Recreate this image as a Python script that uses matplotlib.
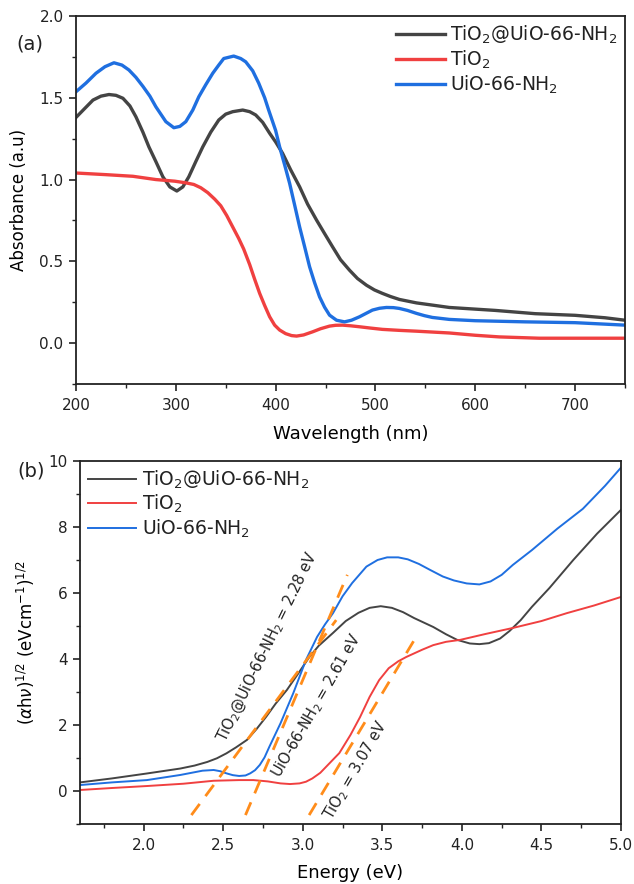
import matplotlib
matplotlib.use("Agg")
import matplotlib.pyplot as plt
from matplotlib.ticker import MultipleLocator, FormatStrFormatter

# ---- panel (a): UV-vis absorbance -------------------------------------------
WL_COMP = [200, 208, 217, 225, 233, 240, 247, 254, 260, 267, 273, 280, 287, 294,
           301, 307, 313, 320, 327, 335, 343, 350, 357, 367, 374, 380, 387, 394,
           400, 407, 415, 424, 432, 441, 449, 457, 465, 474, 482, 491, 499, 507,
           515, 524, 541, 574, 620, 660, 700, 730, 750]
AB_COMP = [1.38, 1.43, 1.486, 1.51, 1.52, 1.515, 1.497, 1.45, 1.384, 1.29, 1.20,
           1.11, 1.017, 0.955, 0.93, 0.955, 1.017, 1.11, 1.20, 1.29, 1.364, 1.40,
           1.415, 1.425, 1.415, 1.395, 1.35, 1.283, 1.23, 1.16, 1.06, 0.956, 0.85,
           0.752, 0.67, 0.589, 0.51, 0.446, 0.395, 0.354, 0.325, 0.304, 0.285,
           0.267, 0.246, 0.218, 0.20, 0.18, 0.17, 0.155, 0.14]

WL_TIO2 = [200, 230, 257, 280, 299, 310, 318, 325, 332, 339, 345, 351, 357, 363,
           368, 374, 379, 384, 389, 394, 399, 404, 410, 416, 421, 428, 437, 445,
           454, 460, 467, 475, 484, 495, 507, 524, 541, 574, 600, 624, 664, 750]
AB_TIO2 = [1.04, 1.03, 1.02, 1.00, 0.99, 0.98, 0.97, 0.95, 0.92, 0.88, 0.84, 0.78,
           0.71, 0.64, 0.575, 0.48, 0.39, 0.304, 0.23, 0.161, 0.11, 0.08, 0.058,
           0.046, 0.043, 0.05, 0.069, 0.088, 0.104, 0.109, 0.11, 0.106, 0.10,
           0.092, 0.084, 0.078, 0.073, 0.062, 0.048, 0.038, 0.03, 0.03]

WL_UIO = [200, 210, 220, 229, 238, 246, 253, 260, 267, 274, 280, 290, 298, 304,
          310, 317, 323, 330, 337, 343, 348, 358, 365, 370, 377, 383, 389, 393,
          400, 404, 409, 414, 419, 424, 429, 434, 439, 444, 449, 454, 461, 469,
          476, 484, 490, 497, 504, 511, 518, 524, 532, 541, 549, 557, 574, 600,
          650, 700, 750]
AB_UIO = [1.537, 1.59, 1.65, 1.69, 1.714, 1.70, 1.67, 1.625, 1.57, 1.51, 1.445,
          1.354, 1.317, 1.325, 1.354, 1.425, 1.506, 1.58, 1.65, 1.70, 1.74, 1.755,
          1.74, 1.72, 1.665, 1.59, 1.50, 1.425, 1.30, 1.20, 1.09, 0.977, 0.845,
          0.711, 0.59, 0.467, 0.37, 0.283, 0.22, 0.171, 0.14, 0.13, 0.14, 0.161,
          0.18, 0.202, 0.213, 0.218, 0.217, 0.212, 0.20, 0.182, 0.168, 0.157,
          0.145, 0.137, 0.13, 0.125, 0.11]

# ---- panel (b): Tauc plot ----------------------------------------------------
E_COMP = [1.60, 1.80, 2.02, 2.23, 2.32, 2.40, 2.46, 2.52, 2.58, 2.65, 2.71, 2.77,
          2.83, 2.90, 2.97, 3.04, 3.10, 3.19, 3.27, 3.35, 3.42, 3.49, 3.56, 3.63,
          3.70, 3.82, 3.90, 3.97, 4.05, 4.11, 4.17, 4.24, 4.30, 4.37, 4.44, 4.55,
          4.70, 4.85, 5.00]
T_COMP = [0.26, 0.38, 0.53, 0.68, 0.77, 0.88, 0.99, 1.14, 1.32, 1.55, 1.88, 2.25,
          2.65, 3.06, 3.55, 4.05, 4.40, 4.79, 5.15, 5.40, 5.55, 5.60, 5.55, 5.42,
          5.24, 4.97, 4.75, 4.58, 4.47, 4.45, 4.48, 4.62, 4.85, 5.18, 5.58, 6.15,
          7.00, 7.80, 8.52]

E_TIO2 = [1.60, 1.80, 2.02, 2.25, 2.44, 2.60, 2.69, 2.78, 2.86, 2.92, 2.98, 3.02,
          3.06, 3.11, 3.17, 3.23, 3.30, 3.36, 3.42, 3.48, 3.54, 3.60, 3.65, 3.75,
          3.82, 3.90, 3.99, 4.15, 4.32, 4.50, 4.66, 4.83, 5.00]
T_TIO2 = [0.03, 0.09, 0.15, 0.22, 0.31, 0.33, 0.33, 0.29, 0.23, 0.21, 0.23, 0.28,
          0.38, 0.55, 0.85, 1.15, 1.70, 2.24, 2.85, 3.36, 3.72, 3.93, 4.06, 4.28,
          4.42, 4.52, 4.58, 4.76, 4.94, 5.15, 5.39, 5.62, 5.88]

E_UIO = [1.60, 1.80, 2.02, 2.23, 2.30, 2.37, 2.44, 2.48, 2.52, 2.56, 2.60, 2.64,
         2.67, 2.70, 2.73, 2.76, 2.79, 2.86, 2.94, 3.02, 3.09, 3.14, 3.19, 3.25,
         3.31, 3.40, 3.47, 3.53, 3.60, 3.66, 3.73, 3.80, 3.88, 3.95, 4.03, 4.11,
         4.18, 4.25, 4.32, 4.44, 4.60, 4.76, 4.90, 5.00]
T_UIO = [0.18, 0.26, 0.33, 0.485, 0.55, 0.615, 0.636, 0.60, 0.535, 0.48, 0.455,
         0.47, 0.535, 0.63, 0.79, 1.02, 1.34, 2.05, 2.96, 3.97, 4.67, 5.05, 5.39,
         5.90, 6.30, 6.80, 7.00, 7.08, 7.08, 7.02, 6.88, 6.70, 6.50, 6.38, 6.29,
         6.26, 6.35, 6.55, 6.85, 7.30, 7.95, 8.55, 9.25, 9.80]

# tangent lines: (x0, y0, x1, y1)
FIT_COMP = (2.30, -0.73, 3.21, 5.18)
FIT_UIO = (2.64, -0.73, 3.28, 6.55)
FIT_TIO2 = (3.04, -0.73, 3.72, 4.73)

NAMES = ["TiO$_2$@UiO-66-NH$_2$", "TiO$_2$", "UiO-66-NH$_2$"]
GREY, RED, BLUE, ORANGE, INK = "#444444", "#f04040", "#1f6fe0", "#ff8c1a", "#222222"

plt.rcParams.update({
    "font.family": "DejaVu Sans", "font.size": 11,
    "axes.linewidth": 1.3, "axes.edgecolor": INK,
    "xtick.direction": "out", "ytick.direction": "out",
    "xtick.major.size": 5, "ytick.major.size": 5,
    "xtick.minor.size": 3, "ytick.minor.size": 3,
    "xtick.major.width": 1.2, "ytick.major.width": 1.2,
    "xtick.minor.width": 1.0, "ytick.minor.width": 1.0,
    "xtick.major.pad": 5, "ytick.major.pad": 4,
    "xtick.labelsize": 11, "ytick.labelsize": 11,
    "text.color": INK, "xtick.color": INK, "ytick.color": INK,
})

fig = plt.figure(figsize=(6.34, 8.84), dpi=100)
ax1 = fig.add_axes([0.1199, 0.5656, 0.8659, 0.4163])
ax2 = fig.add_axes([0.1262, 0.0679, 0.8533, 0.4106])

# (a)
ax1.plot(WL_COMP, AB_COMP, color=GREY, lw=2.4, label=NAMES[0])
ax1.plot(WL_TIO2, AB_TIO2, color=RED, lw=2.4, label=NAMES[1])
ax1.plot(WL_UIO, AB_UIO, color=BLUE, lw=2.4, label=NAMES[2])
ax1.set_xlim(200, 750); ax1.set_ylim(-0.25, 2.0)
ax1.xaxis.set_major_locator(MultipleLocator(100))
ax1.xaxis.set_minor_locator(MultipleLocator(50))
ax1.yaxis.set_major_locator(MultipleLocator(0.5))
ax1.yaxis.set_minor_locator(MultipleLocator(0.25))
ax1.yaxis.set_major_formatter(FormatStrFormatter("%.1f"))
ax1.set_xlabel("Wavelength (nm)", fontsize=13, labelpad=9)
ax1.set_ylabel("Absorbance (a.u)", fontsize=12, labelpad=8)
ax1.legend(loc="upper right", frameon=False, fontsize=13.5, handlelength=2.6,
           handletextpad=0.3, labelspacing=0.15, borderaxespad=0.0)
fig.text(0.047, 0.950, "(a)", fontsize=14, ha="center", va="center")

# (b)
ax2.plot(E_COMP, T_COMP, color=GREY, lw=1.4, label=NAMES[0])
ax2.plot(E_TIO2, T_TIO2, color=RED, lw=1.4, label=NAMES[1])
ax2.plot(E_UIO, T_UIO, color=BLUE, lw=1.4, label=NAMES[2])
for x0, y0, x1, y1 in (FIT_COMP, FIT_UIO, FIT_TIO2):
    ax2.plot([x0, x1], [y0, y1], color=ORANGE, lw=2.0, dashes=(5, 3.5))
ax2.set_xlim(1.6, 5.0); ax2.set_ylim(-1, 10)
ax2.xaxis.set_major_locator(MultipleLocator(0.5))
ax2.xaxis.set_minor_locator(MultipleLocator(0.25))
ax2.yaxis.set_major_locator(MultipleLocator(2))
ax2.yaxis.set_minor_locator(MultipleLocator(1))
ax2.xaxis.set_major_formatter(FormatStrFormatter("%.1f"))
ax2.set_xlabel("Energy (eV)", fontsize=13, labelpad=8)
ax2.set_ylabel("($\\alpha$h$\\nu$)$^{1/2}$ (eVcm$^{-1}$)$^{1/2}$", fontsize=12, labelpad=8)
ax2.legend(loc="upper left", frameon=False, fontsize=13.5, handlelength=2.6,
           handletextpad=0.3, labelspacing=0.12, borderaxespad=0.0)
fig.text(0.049, 0.467, "(b)", fontsize=14, ha="center", va="center")

ax2.text(2.78, 4.36, "TiO$_2$@UiO-66-NH$_2$ = 2.28 eV", rotation=64,
         ha="center", va="center", fontsize=10.5)
ax2.text(3.09, 2.60, "UiO-66-NH$_2$ = 2.61 eV", rotation=60,
         ha="center", va="center", fontsize=10.5)
ax2.text(3.33, 0.64, "TiO$_2$ = 3.07 eV", rotation=60,
         ha="center", va="center", fontsize=10.5)

fig.savefig("out.png", dpi=100)
